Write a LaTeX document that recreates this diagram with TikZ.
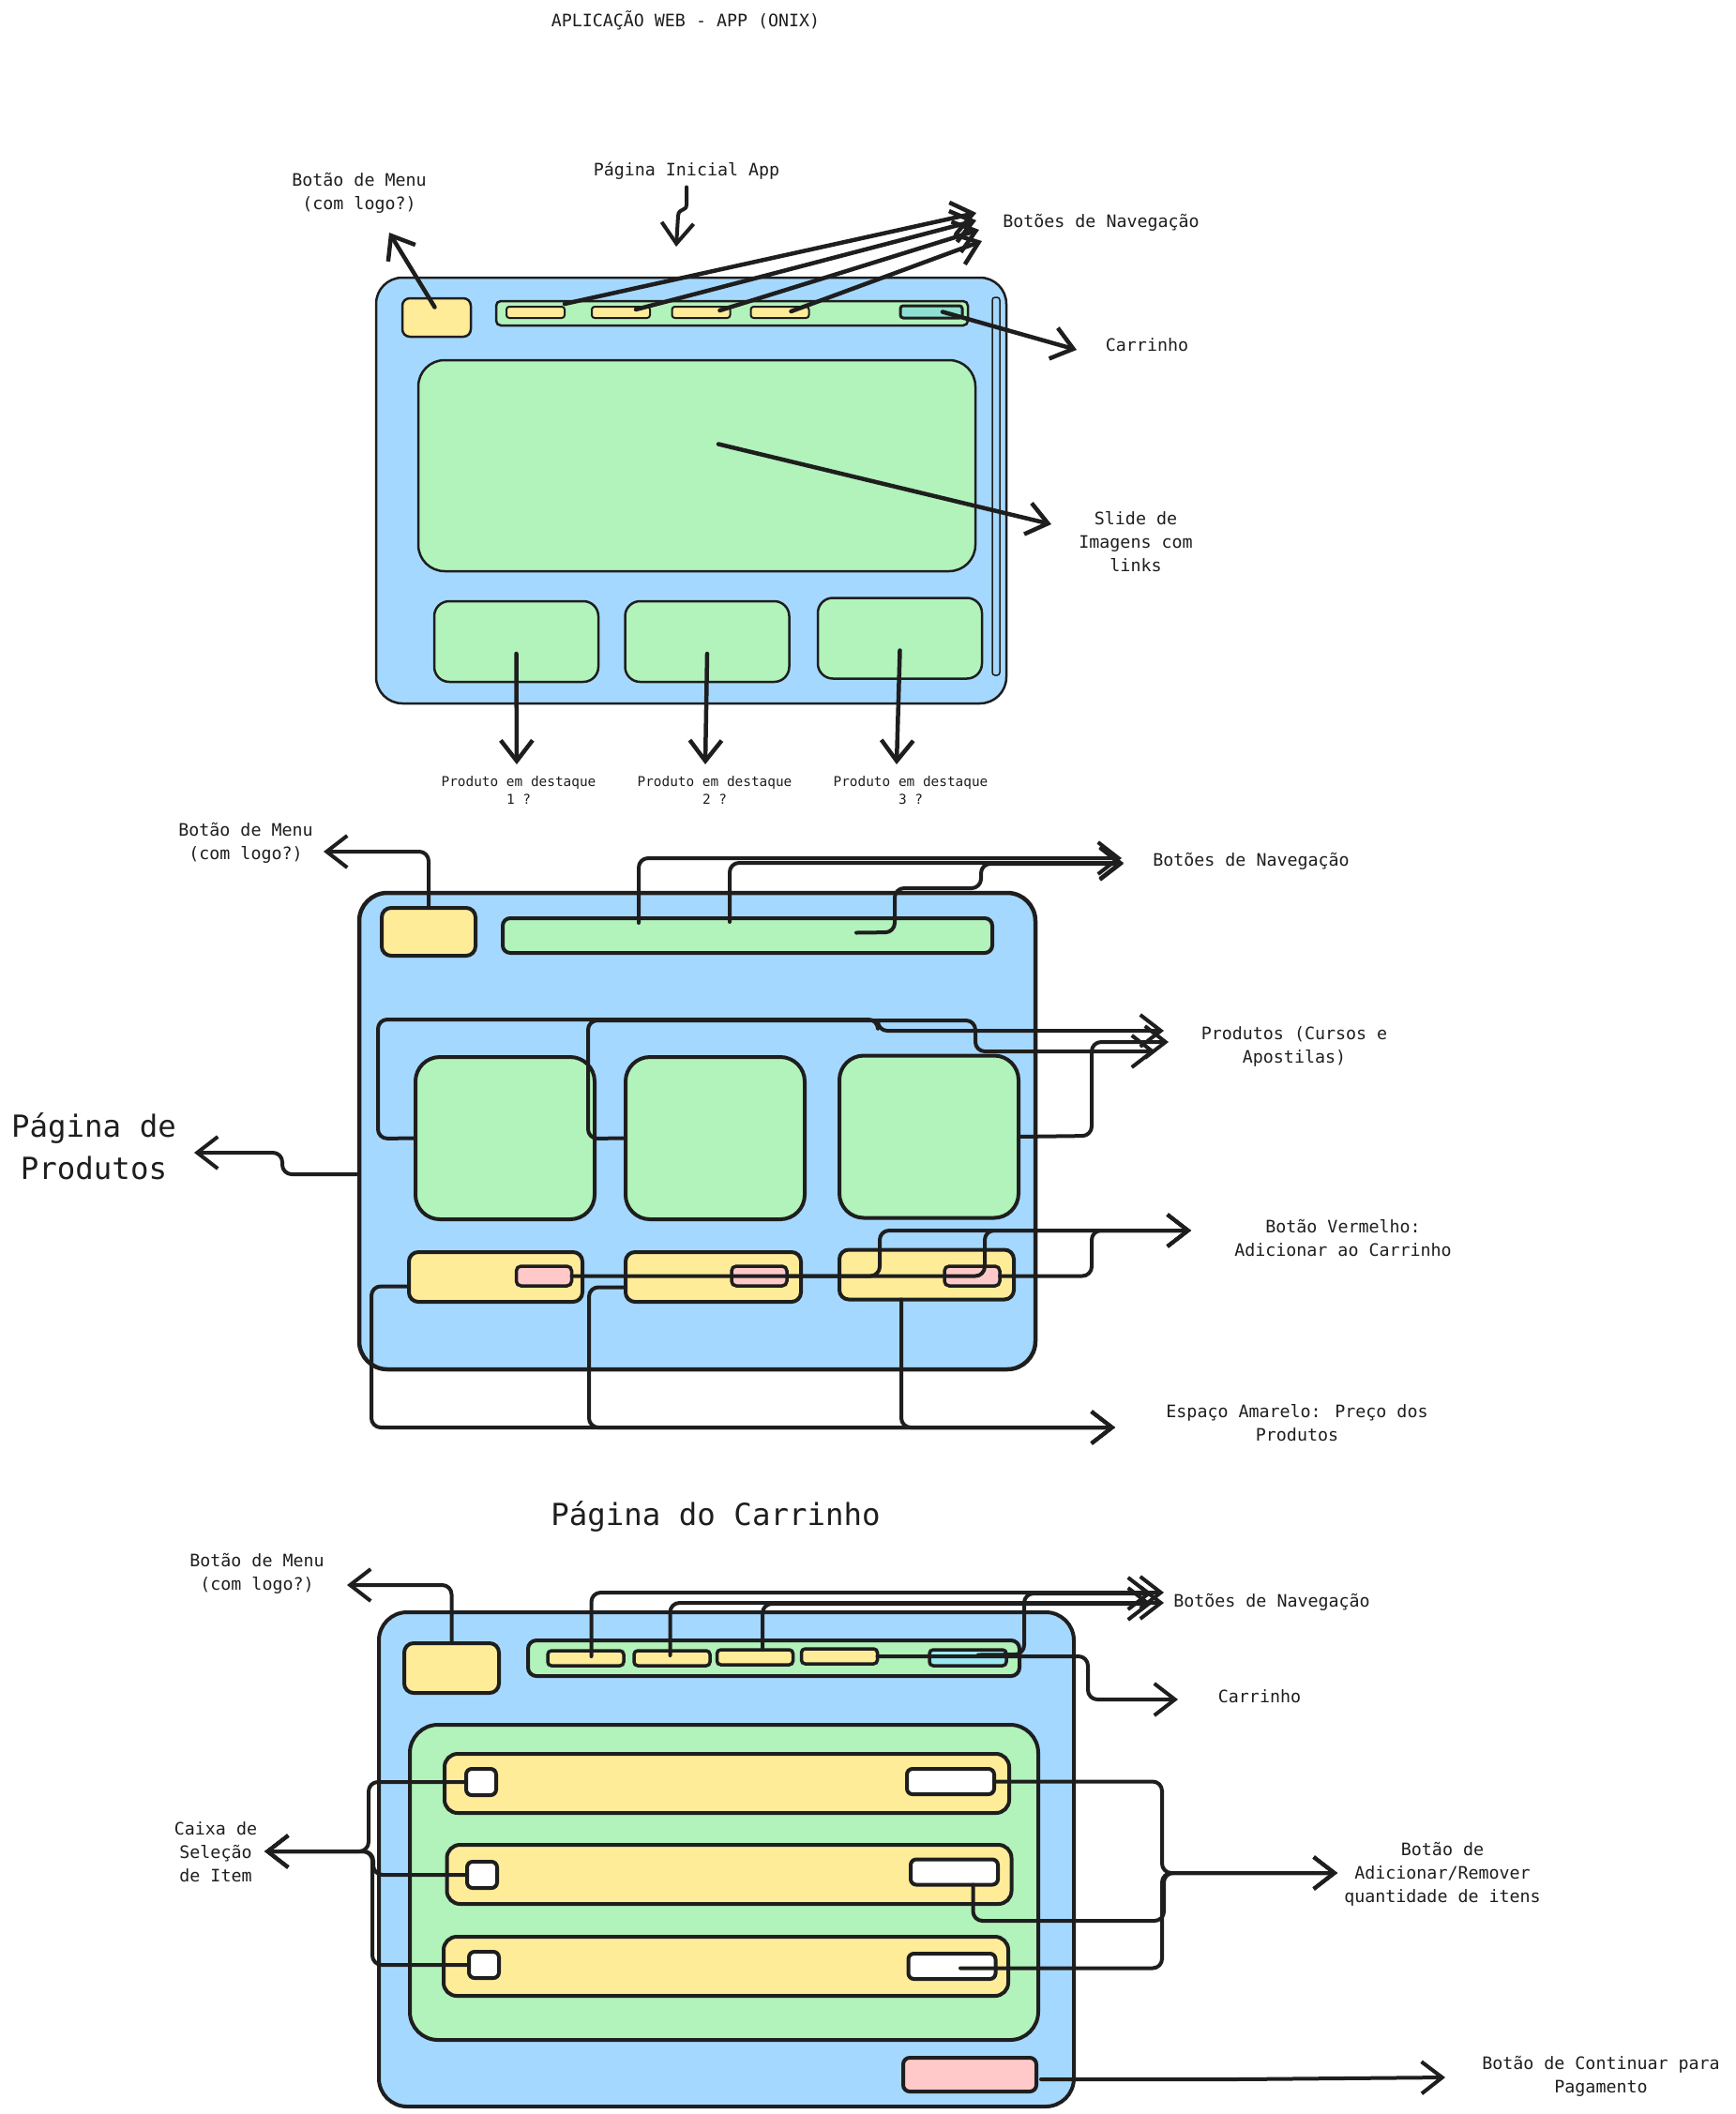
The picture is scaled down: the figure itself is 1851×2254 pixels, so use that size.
\documentclass[tikz,border=0pt]{standalone}
\usepackage{fontspec}
\usetikzlibrary{arrows.meta, calc}
\newfontfamily\rotulofonte{DejaVu Sans Mono}
\definecolor{tinta}{HTML}{1E1E1E}
\definecolor{azul}{HTML}{A5D8FF}
\definecolor{verde}{HTML}{B2F2BB}
\definecolor{amarelo}{HTML}{FFEC99}
\definecolor{rosa}{HTML}{FFC9C9}
\definecolor{turquesa}{HTML}{8FE0D2}
\definecolor{ciano}{HTML}{99E9F2}

\begin{document}
\begin{tikzpicture}[
    x=1pt, y=-1pt,
    % Caixas do wireframe (tamanho dado em pixels)
    bloco/.style={draw=tinta, rectangle, inner sep=0pt, outer sep=0pt},
    tam/.style 2 args={minimum width=#1pt, minimum height=#2pt},
    moldura/.style={bloco, fill=azul, rounded corners=28pt},
    painel/.style={bloco, fill=verde, rounded corners=22pt},
    botao/.style={bloco, fill=amarelo, rounded corners=8pt},
    % Textos
    rotulo/.style={font=\rotulofonte\fontsize{18.3}{25}\selectfont, text=tinta, align=center, inner sep=0pt},
    rotuloP/.style={font=\rotulofonte\fontsize{14.4}{19}\selectfont, text=tinta, align=center, inner sep=0pt},
    rotuloG/.style={font=\rotulofonte\fontsize{32.4}{45}\selectfont, text=tinta, align=center, inner sep=0pt},
    % Setas e conectores
    seta/.style={-{Straight Barb[length=22pt, width=34pt]}, draw=tinta, line width=4.5pt, line cap=round, line join=round},
    conector/.style={seta, line width=4pt, rounded corners=10pt}
]
    \useasboundingbox (0,0) rectangle (1851,2254);

    \node[rotulo] (titulo) at (731,22) {APLICAÇÃO WEB - APP (ONIX)};

    % --- PÁGINA INICIAL ---
    \node[moldura, tam={672}{454}, line width=2.5pt] (molduraA) at (737,523) {};
    \node[bloco, fill=azul, tam={8}{403}, rounded corners=3pt, line width=1.5pt] (rolagemA) at (1062,518.5) {};
    \node[botao, tam={73}{41}, line width=2.5pt] (menuA) at (465.5,338.5) {};
    \node[painel, tam={503}{26}, rounded corners=5pt, line width=2.5pt] (navA) at (780.5,334) {};
    \foreach \i/\x in {1/571, 2/662, 3/747.5, 4/831.5}
        \node[botao, tam={62}{12}, rounded corners=3pt, line width=2pt] (navA\i) at (\x,333) {};
    \node[bloco, fill=turquesa, tam={66}{13}, rounded corners=3pt, line width=3pt] (carrinhoA) at (993,332.5) {};
    \node[painel, tam={594}{225}, rounded corners=28pt, line width=2.5pt] (slideA) at (743,496.5) {};
    \foreach \i/\x/\y in {1/550.5/684, 2/754/684, 3/959.5/680.5}
        \node[painel, tam={175}{86}, rounded corners=16pt, line width=2.5pt] (destA\i) at (\x,\y) {};

    % Rotulos
    \node[rotulo] (lblMenuA) at (383,205.5) {Botão de Menu\\(com logo?)};
    \node[rotulo] (lblInicial) at (732,182) {Página Inicial App};
    \node[rotulo] (lblNavA) at (1174,237) {Botões de Navegação};
    \node[rotulo] (lblCarrinhoA) at (1223,368) {Carrinho};
    \node[rotulo] (lblSlide) at (1211,578) {Slide de\\Imagens com\\links};
    \node[rotuloP] (lblDest1) at (553,842.5) {Produto em destaque\\1 ?};
    \node[rotuloP] (lblDest2) at (762,842.5) {Produto em destaque\\2 ?};
    \node[rotuloP] (lblDest3) at (971,842.5) {Produto em destaque\\3 ?};

    % Pontas das setas
    \coordinate (pontaMenuA) at (415,248);
    \coordinate (pontaInicial) at (721,263);
    \coordinate (pontaNavA1) at (1041,227);
    \coordinate (pontaNavA2) at (1041,235);
    \coordinate (pontaNavA3) at (1044,245);
    \coordinate (pontaNavA4) at (1047,257);
    \coordinate (pontaCarrinhoA) at (1148,373);
    \coordinate (pontaSlide) at (1121,559);
    \coordinate (pontaDest1) at (551,815);
    \coordinate (pontaDest2) at (752,815);
    \coordinate (pontaDest3) at (956,815);

    \draw[seta] ($(menuA.center)+(-2,-11)$) -- (pontaMenuA);
    \draw[seta, line width=4pt] ($(lblInicial.south)+(0,8)$) -- (732,218) .. controls (732,226) and (724,221) .. (723,230) -- (pontaInicial);
    \draw[seta] ($(navA1.north east)+(0,-3)$) -- (pontaNavA1);
    \draw[seta] ($(navA2.center)+(16,-3)$) -- (pontaNavA2);
    \draw[seta] ($(navA3.center)+(20,-2)$) -- (pontaNavA3);
    \draw[seta] ($(navA4.center)+(12,-1)$) -- (pontaNavA4);
    \draw[seta] ($(carrinhoA.center)+(12,0)$) -- (pontaCarrinhoA);
    \draw[seta] ($(slideA.center)+(23,-23)$) -- (pontaSlide);
    \foreach \i in {1,2,3}
        \draw[seta] ($(destA\i.center)+(0,13)$) -- (pontaDest\i);

    % --- PÁGINA DE PRODUTOS ---
    \node[moldura, tam={721}{508}, line width=4.5pt, rounded corners=30pt] (molduraB) at (743.5,1206) {};
    \node[botao, tam={100}{51}, line width=4pt, rounded corners=10pt] (menuB) at (457,993.5) {};
    \node[painel, tam={522}{37}, rounded corners=8pt, line width=4pt] (navB) at (797,997.5) {};
    \foreach \i/\x/\y in {1/538.5/1213.5, 2/762.5/1213.5, 3/990.5/1212}
        \node[painel, tam={191}{173}, rounded corners=26pt, line width=4pt] (cardB\i) at (\x,\y) {};
    \foreach \i/\x/\y/\lar in {1/528.5/1361.5/185, 2/760.5/1361.5/187, 3/988/1359/186}
        \node[botao, tam={\lar}{53}, rounded corners=10pt, line width=4pt] (precoB\i) at (\x,\y) {};
    \foreach \i/\x in {1/580, 2/809.5, 3/1036.5}
        \node[bloco, fill=rosa, tam={59}{21}, rounded corners=5pt, line width=3.5pt] (vermB\i) at (\x,1360.5) {};

    % Rotulos
    \node[rotulo] (lblMenuB) at (262,898.5) {Botão de Menu\\(com logo?)};
    \node[rotuloG] (lblPagProd) at (100,1222.5) {Página de\\Produtos};
    \node[rotulo] (lblNavB) at (1334,918) {Botões de Navegação};
    \node[rotulo] (lblProdutos) at (1380,1115.5) {Produtos (Cursos e\\Apostilas)};
    \node[rotulo] (lblVermelho) at (1432,1320) {Botão Vermelho:\\Adicionar ao Carrinho};
    \node[rotulo] (lblAmarelo) at (1383,1517.5) {Espaço Amarelo: Preço dos\\Produtos};

    % Pontas das setas
    \coordinate (pontaMenuB) at (345,908);
    \coordinate (pontaPagProd) at (207,1229);
    \coordinate (pontaNavB1) at (1196,915);
    \coordinate (pontaNavB2) at (1198,920);
    \coordinate (pontaNavB3) at (1198,921);
    \coordinate (pontaProd1) at (1241,1099);
    \coordinate (pontaProd2) at (1246,1111);
    \coordinate (pontaProd3) at (1232,1121);
    \coordinate (pontaVerm) at (1270,1312);
    \coordinate (pontaAmarelo) at (1189,1522);

    \draw[conector] (menuB.north) |- (pontaMenuB);
    \draw[conector] ($(molduraB.west)+(-3,46)$) -- (301,1252) -- (301,1229) -- (pontaPagProd);
    \draw[conector] ($(navB.north west)+(145,5)$) |- (pontaNavB1);
    \draw[conector] ($(navB.north west)+(242,4)$) |- (pontaNavB2);
    \draw[conector] ($(navB.center)+(116,-3)$) -- (954,994) -- (954,947) -- (1046,947) -- (1046,921) -- (pontaNavB3);
    \draw[conector] (cardB1.west) -- (403,1214) -- (403,1087) -- (936,1087) -- (936,1099) -- (pontaProd1);
    \draw[conector] (cardB2.west) -- (627,1214) -- (627,1088) -- (1040,1088) -- (1040,1121) -- (pontaProd3);
    \draw[conector] (cardB3.east) -- (1164,1211) -- (1164,1111) -- (pontaProd2);
    \draw[conector] (vermB1.east) -- (938,1360.5) -- (938,1312) -- (pontaVerm);
    \draw[conector] (vermB2.east) -- (1050,1360.5) -- (1050,1312) -- (pontaVerm);
    \draw[conector] (vermB3.east) -- (1164,1360.5) -- (1164,1312) -- (pontaVerm);
    \draw[conector] ($(precoB1.west)+(0,10)$) -- (396,1371.5) -- (396,1522) -- (pontaAmarelo);
    \draw[conector] ($(precoB2.west)+(0,11)$) -- (628,1372.5) -- (628,1522) -- (pontaAmarelo);
    \draw[conector] ($(precoB3.south)+(-27,0)$) -- (961,1522) -- (pontaAmarelo);

    % --- PÁGINA DO CARRINHO ---
    \node[rotuloG] (tituloC) at (763,1617) {Página do Carrinho};
    \node[moldura, tam={741}{527}, line width=4pt, rounded corners=30pt] (molduraC) at (774.5,1982.5) {};
    \node[botao, tam={101}{53}, line width=4pt, rounded corners=10pt] (menuC) at (481.5,1778.5) {};
    \node[painel, tam={524}{38}, rounded corners=9pt, line width=4pt] (navC) at (825,1768) {};
    \foreach \i/\x/\y in {1/624.5/1768, 2/716.5/1768, 3/805/1767, 4/895/1766}
        \node[botao, tam={81}{16}, rounded corners=4pt, line width=3.5pt] (navC\i) at (\x,\y) {};
    \node[bloco, fill=ciano, tam={82}{17}, rounded corners=4pt, line width=3.5pt] (carrinhoC) at (1032,1767.5) {};
    \node[painel, tam={670}{336}, rounded corners=30pt, line width=4pt] (listaC) at (772,2007) {};
    \foreach \i/\x/\y in {1/775/1901.5, 2/777.5/1998.5, 3/774/2096.5}
        \node[botao, tam={602}{63}, rounded corners=14pt, line width=4pt] (itemC\i) at (\x,\y) {};
    \foreach \i/\x/\y in {1/513/1900, 2/514/1999, 3/516/2095}
        \node[bloco, fill=white, tam={32}{28}, rounded corners=6pt, line width=4pt] (caixaC\i) at (\x,\y) {};
    \foreach \i/\x/\y in {1/1013.5/1899.5, 2/1017.5/1996, 3/1015/2096.5}
        \node[bloco, fill=white, tam={93}{27}, rounded corners=6pt, line width=4pt] (qtdC\i) at (\x,\y) {};
    \node[bloco, fill=rosa, tam={142}{36}, rounded corners=7pt, line width=4pt] (pagarC) at (1034,2212) {};

    % Rotulos
    \node[rotulo] (lblMenuC) at (274,1677.5) {Botão de Menu\\(com logo?)};
    \node[rotulo] (lblNavC) at (1356,1708) {Botões de Navegação};
    \node[rotulo] (lblCarrinhoC) at (1343,1809) {Carrinho};
    \node[rotulo] (lblCaixa) at (230,1975) {Caixa de\\Seleção\\de Item};
    \node[rotulo] (lblQtd) at (1538,1998) {Botão de\\Adicionar/Remover\\quantidade de itens};
    \node[rotulo] (lblPagar) at (1707,2214) {Botão de Continuar para\\Pagamento};

    % Pontas das setas
    \coordinate (pontaMenuC) at (370,1690);
    \coordinate (pontaNavC1) at (1241,1698);
    \coordinate (pontaNavC2) at (1228,1699);
    \coordinate (pontaNavC3) at (1241,1709);
    \coordinate (pontaNavC4) at (1228,1710);
    \coordinate (pontaCarrinhoC) at (1256,1812);
    \coordinate (pontaCaixa) at (282,1974);
    \coordinate (pontaQtd) at (1426,1997);
    \coordinate (pontaPagar) at (1541,2215);

    \draw[conector] (menuC.north) |- (pontaMenuC);
    \draw[conector] ($(navC1.center)+(6,-2)$) |- (pontaNavC1);
    \draw[conector] ($(navC2.center)+(-2,-3)$) |- (pontaNavC3);
    \draw[conector] ($(navC3.center)+(8,-10)$) |- (pontaNavC4);
    \draw[conector] ($(carrinhoC.center)+(11,-3)$) -- (1092,1764) -- (1092,1699) -- (pontaNavC2);
    \draw[conector] (navC4.east) -- (1160,1766) -- (1160,1812) -- (pontaCarrinhoC);
    \draw[conector] (caixaC1.west) -- (393,1900) -- (393,1974) -- (pontaCaixa);
    \draw[conector] (caixaC2.west) -- (398,1999) -- (398,1974) -- (pontaCaixa);
    \draw[conector] (caixaC3.west) -- (397,2095) -- (397,1974) -- (pontaCaixa);
    \draw[conector] (qtdC1.east) -- (1239,1899.5) -- (1239,1997) -- (pontaQtd);
    \draw[conector] ($(qtdC2.south)+(20,0)$) -- (1037.5,2048) -- (1241,2048) -- (1241,1997) -- (pontaQtd);
    \draw[conector] ($(qtdC3.center)+(9,2)$) -- (1239,2098.5) -- (1239,1997) -- (pontaQtd);
    \draw[conector] ($(pagarC.east)+(5,5)$) -- (1320,2217) -- (pontaPagar);

\end{tikzpicture}
\end{document}
